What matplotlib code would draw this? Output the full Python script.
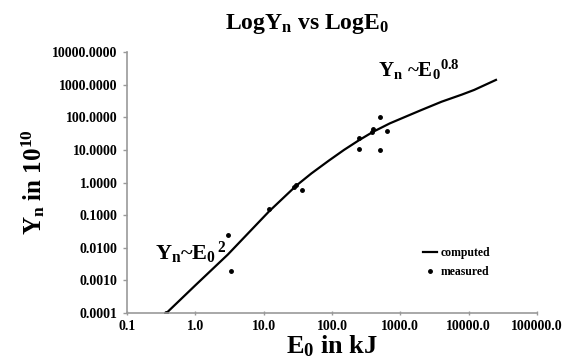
import numpy as np
import matplotlib
matplotlib.use('Agg')
from matplotlib import pyplot as plt

plt.rcParams['font.family'] = 'Liberation Serif'
plt.rcParams['font.weight'] = 'bold'
plt.rcParams['mathtext.fontset'] = 'custom'
plt.rcParams['mathtext.rm'] = 'Liberation Serif:bold'
plt.rcParams['mathtext.it'] = 'Liberation Serif:bold'
plt.rcParams['mathtext.bf'] = 'Liberation Serif:bold'

# computed curve (E0 in kJ, Yn in 1e10)
e_comp = [0.38, 1.0, 3.0, 12.0, 30.0, 50.0, 90.0, 150.0, 250.0, 400.0, 700.0, 1200.0, 2000.0, 4000.0, 8000.0, 12000.0, 25000.0]
y_comp = [0.0001, 0.0007, 0.0062, 0.13, 0.8, 1.9, 4.7, 10.0, 20.0, 36.0, 65.0, 105.0, 165.0, 300.0, 500.0, 690.0, 1400.0]

# measured points
e_meas = [0.38, 3.0, 3.3, 12.0, 28.0, 30.0, 37.0, 245.0, 250.0, 380.0, 400.0, 500.0, 500.0, 630.0]
y_meas = [0.0001, 0.025, 0.002, 0.15, 0.75, 0.85, 0.6, 24.0, 10.5, 35.0, 45.0, 10.0, 100.0, 38.0]

x_ticks = [0.1, 1, 10, 100, 1000, 10000, 100000]
y_ticks = [0.0001, 0.001, 0.01, 0.1, 1, 10, 100, 1000, 10000]

fig = plt.figure(figsize=(5.66, 3.64), dpi=100)
ax = fig.add_axes([0.224, 0.140, 0.725, 0.717])

ax.plot(e_comp, y_comp, color='black', lw=1.6, label='computed')
ax.plot(e_meas, y_meas, ls='none', marker='o', ms=2.5, color='black', label='measured')

ax.set_xscale('log')
ax.set_yscale('log')
ax.set_xlim(0.1, 100000)
ax.set_ylim(0.0001, 10000)
ax.minorticks_off()
ax.set_xticks(x_ticks)
ax.set_xticklabels(['%.1f' % v for v in x_ticks])
ax.set_yticks(y_ticks)
ax.set_yticklabels(['%.4f' % v for v in y_ticks])
ax.tick_params(axis='both', labelsize=10, colors='#999999', labelcolor='black', length=3, width=1)
ax.tick_params(axis='x', direction='inout')

for s in ['top', 'right']:
    ax.spines[s].set_visible(False)
for s in ['left', 'bottom']:
    ax.spines[s].set_color('#999999')
    ax.spines[s].set_linewidth(1.2)

fig.text(0.542, 0.935, r'Log$\mathrm{Y_n}$ vs Log$\mathrm{E_0}$', fontsize=17, fontweight='bold',
         ha='center', va='center')
ax.set_xlabel(r'$\mathrm{E_0}$ in kJ', fontsize=19, fontweight='bold', labelpad=0)
ax.set_ylabel(r'$\mathrm{Y_n}$ in $\mathrm{10^{10}}$', fontsize=18, fontweight='bold', labelpad=4)

ax.text(1900, 1700, r'$\mathrm{Y_n}$ ~$\mathrm{E_0}^{0.8}$', fontsize=15, ha='center')
ax.text(0.85, 0.0042, r'$\mathrm{Y_n}$~$\mathrm{E_0}^{\,2}$', fontsize=16, ha='center')

leg = ax.legend(loc='lower right', bbox_to_anchor=(0.90, 0.11), frameon=False, fontsize=8.5,
                handlelength=1.2, handletextpad=0.3, borderpad=0, labelspacing=0.6)

fig.savefig('out.png', dpi=100)
